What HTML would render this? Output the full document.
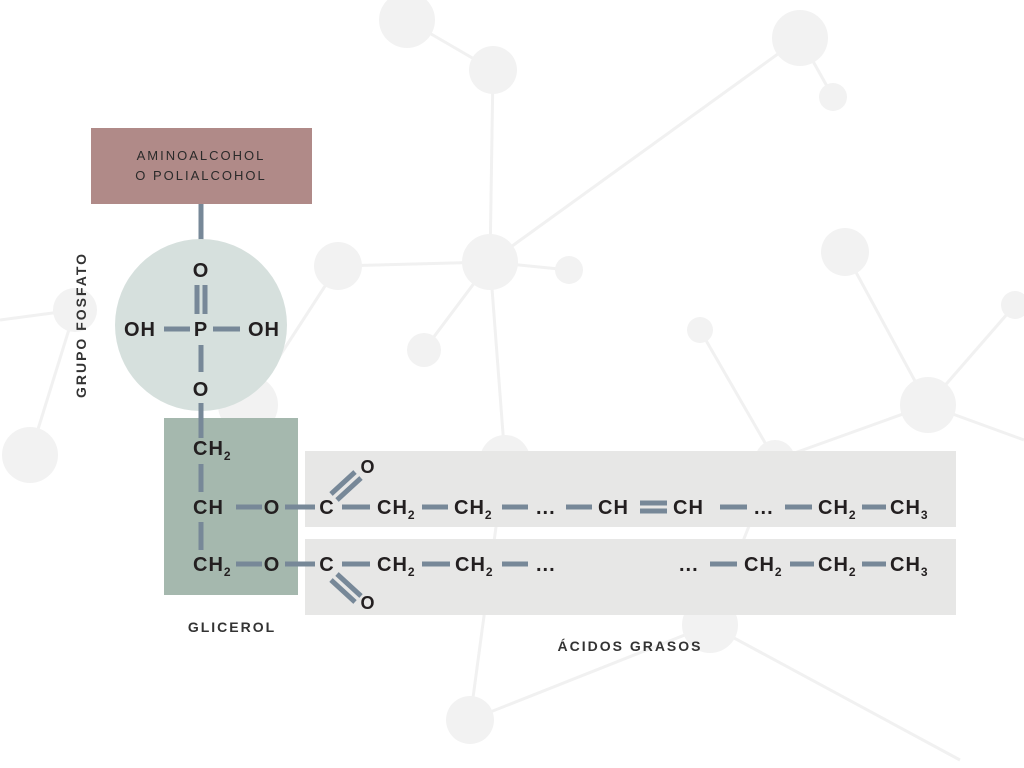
<!DOCTYPE html>
<html><head><meta charset="utf-8"><style>
html,body{margin:0;padding:0;background:#fff;}
svg{display:block;}
.t{font-family:"Liberation Sans",sans-serif;font-weight:bold;font-size:20px;fill:#231f20;letter-spacing:1px;}
.s{font-size:12px;}
.l{font-family:"Liberation Sans",sans-serif;font-size:14px;fill:#333;letter-spacing:2px;font-weight:bold;}
.b{stroke:#778898;stroke-width:5;}
</style></head><body>
<svg width="1024" height="768" viewBox="0 0 1024 768">
<g stroke="#f1f1f1" stroke-width="3">
<line x1="407" y1="20" x2="493" y2="70"/><line x1="493" y1="70" x2="490" y2="262"/>
<line x1="490" y1="262" x2="800" y2="38"/><line x1="800" y1="38" x2="833" y2="97"/>
<line x1="490" y1="262" x2="338" y2="266"/><line x1="490" y1="262" x2="569" y2="270"/>
<line x1="490" y1="262" x2="424" y2="350"/><line x1="338" y1="266" x2="248" y2="405"/>
<line x1="0" y1="320" x2="75" y2="310"/><line x1="75" y1="310" x2="30" y2="455"/>
<line x1="845" y1="252" x2="928" y2="405"/><line x1="928" y1="405" x2="1015" y2="305"/>
<line x1="700" y1="330" x2="775" y2="460"/><line x1="928" y1="405" x2="1024" y2="440"/>
<line x1="928" y1="405" x2="775" y2="460"/>
<line x1="710" y1="625" x2="470" y2="720"/><line x1="710" y1="625" x2="960" y2="760"/>
<line x1="490" y1="262" x2="505" y2="460"/><line x1="505" y1="460" x2="470" y2="720"/>
<line x1="775" y1="460" x2="710" y2="625"/>
</g>
<g fill="#f2f2f2">
<circle cx="407" cy="20" r="28"/><circle cx="493" cy="70" r="24"/><circle cx="800" cy="38" r="28"/>
<circle cx="833" cy="97" r="14"/><circle cx="490" cy="262" r="28"/><circle cx="338" cy="266" r="24"/>
<circle cx="569" cy="270" r="14"/><circle cx="845" cy="252" r="24"/><circle cx="424" cy="350" r="17"/>
<circle cx="700" cy="330" r="13"/><circle cx="928" cy="405" r="28"/><circle cx="1015" cy="305" r="14"/>
<circle cx="30" cy="455" r="28"/><circle cx="75" cy="310" r="22"/><circle cx="248" cy="405" r="30"/>
<circle cx="505" cy="460" r="25"/><circle cx="775" cy="460" r="20"/><circle cx="710" cy="625" r="28"/>
<circle cx="470" cy="720" r="24"/>
</g>
<rect x="91" y="128" width="221" height="76" fill="#b08a88"/>
<text class="l" x="201" y="160" text-anchor="middle" style="font-size:13px;font-weight:normal;fill:#2a2a2a">AMINOALCOHOL</text>
<text class="l" x="201" y="180" text-anchor="middle" style="font-size:13px;font-weight:normal;fill:#2a2a2a">O POLIALCOHOL</text>
<line class="b" x1="201" y1="204" x2="201" y2="240"/>
<circle cx="201" cy="325" r="86" fill="#d6e0dd"/>
<rect x="164" y="418" width="134" height="177" fill="#a5b8ae"/>
<rect x="305" y="451" width="651" height="76" fill="#e7e7e6"/>
<rect x="305" y="539" width="651" height="76" fill="#e7e7e6"/>
<text class="t" x="201" y="277" text-anchor="middle">O</text>
<line class="b" x1="197" y1="285" x2="197" y2="314"/><line class="b" x1="205" y1="285" x2="205" y2="314"/>
<text class="t" x="201" y="336" text-anchor="middle">P</text>
<text class="t" x="140" y="336" text-anchor="middle">OH</text>
<text class="t" x="264" y="336" text-anchor="middle">OH</text>
<line class="b" x1="164" y1="329" x2="190" y2="329"/><line class="b" x1="213" y1="329" x2="240" y2="329"/>
<line class="b" x1="201" y1="345" x2="201" y2="372"/>
<text class="t" x="201" y="396" text-anchor="middle">O</text>
<line class="b" x1="201" y1="403" x2="201" y2="438"/>
<text class="t" x="193" y="455">CH<tspan class="s" dy="5">2</tspan></text>
<line class="b" x1="201" y1="464" x2="201" y2="492"/>
<text class="t" x="193" y="514">CH</text>
<line class="b" x1="201" y1="522" x2="201" y2="550"/>
<text class="t" x="193" y="571">CH<tspan class="s" dy="5">2</tspan></text>
<line class="b" x1="236" y1="507" x2="262" y2="507"/>
<text class="t" x="272" y="514" text-anchor="middle">O</text>
<line class="b" x1="285" y1="507" x2="315" y2="507"/>
<text class="t" x="327" y="514" text-anchor="middle">C</text>
<line class="b" x1="331" y1="494" x2="355" y2="472"/><line class="b" x1="337" y1="500" x2="361" y2="478"/>
<text class="t" x="368" y="473" text-anchor="middle" style="font-size:18px">O</text>
<line class="b" x1="342" y1="507" x2="370" y2="507"/>
<text class="t" x="377" y="514">CH<tspan class="s" dy="5">2</tspan></text>
<line class="b" x1="422" y1="507" x2="448" y2="507"/>
<text class="t" x="454" y="514">CH<tspan class="s" dy="5">2</tspan></text>
<line class="b" x1="502" y1="507" x2="528" y2="507"/>
<text class="t" x="536" y="514">...</text>
<line class="b" x1="566" y1="507" x2="592" y2="507"/>
<text class="t" x="598" y="514">CH</text>
<line class="b" x1="640" y1="503" x2="667" y2="503"/><line class="b" x1="640" y1="511" x2="667" y2="511"/>
<text class="t" x="673" y="514">CH</text>
<line class="b" x1="720" y1="507" x2="747" y2="507"/>
<text class="t" x="754" y="514">...</text>
<line class="b" x1="785" y1="507" x2="812" y2="507"/>
<text class="t" x="818" y="514">CH<tspan class="s" dy="5">2</tspan></text>
<line class="b" x1="862" y1="507" x2="886" y2="507"/>
<text class="t" x="890" y="514">CH<tspan class="s" dy="5">3</tspan></text>
<line class="b" x1="236" y1="564" x2="262" y2="564"/>
<text class="t" x="272" y="571" text-anchor="middle">O</text>
<line class="b" x1="285" y1="564" x2="315" y2="564"/>
<text class="t" x="327" y="571" text-anchor="middle">C</text>
<line class="b" x1="337" y1="574" x2="361" y2="596"/><line class="b" x1="331" y1="580" x2="355" y2="602"/>
<text class="t" x="368" y="609" text-anchor="middle" style="font-size:18px">O</text>
<line class="b" x1="342" y1="564" x2="370" y2="564"/>
<text class="t" x="377" y="571">CH<tspan class="s" dy="5">2</tspan></text>
<line class="b" x1="422" y1="564" x2="450" y2="564"/>
<text class="t" x="455" y="571">CH<tspan class="s" dy="5">2</tspan></text>
<line class="b" x1="502" y1="564" x2="528" y2="564"/>
<text class="t" x="536" y="571">...</text>
<text class="t" x="679" y="571">...</text>
<line class="b" x1="710" y1="564" x2="737" y2="564"/>
<text class="t" x="744" y="571">CH<tspan class="s" dy="5">2</tspan></text>
<line class="b" x1="790" y1="564" x2="814" y2="564"/>
<text class="t" x="818" y="571">CH<tspan class="s" dy="5">2</tspan></text>
<line class="b" x1="862" y1="564" x2="886" y2="564"/>
<text class="t" x="890" y="571">CH<tspan class="s" dy="5">3</tspan></text>
<text class="l" transform="translate(86,325) rotate(-90)" text-anchor="middle">GRUPO FOSFATO</text>
<text class="l" x="232" y="632" text-anchor="middle">GLICEROL</text>
<text class="l" x="630" y="651" text-anchor="middle">ÁCIDOS GRASOS</text>
</svg>
</body></html>
